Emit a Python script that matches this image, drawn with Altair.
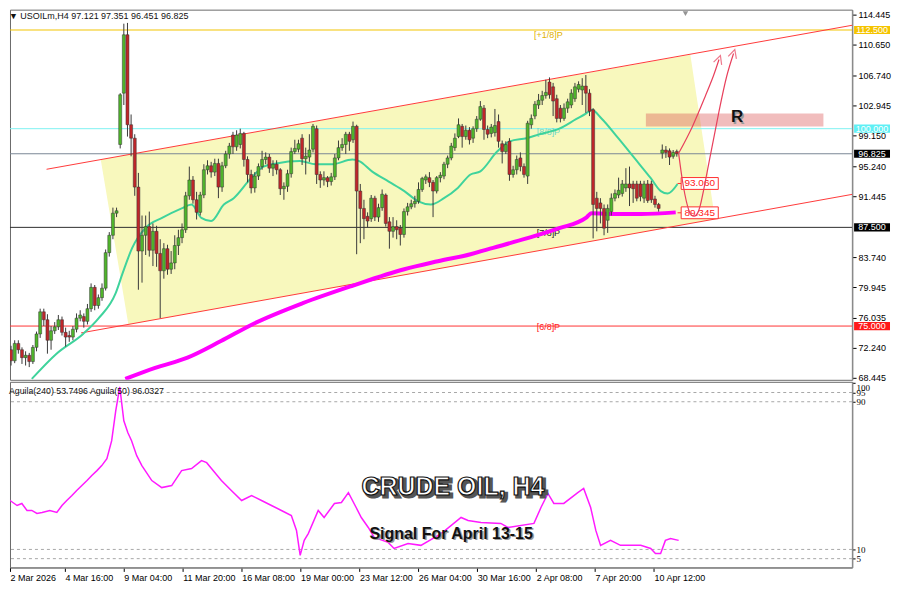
import altair as alt
import pandas as pd

# ---------------- price data (H4 candles) ----------------
opens = [72.0, 70.6, 72.8, 72.0, 71.0, 71.3, 70.5, 72.3, 74.0, 76.8,
         75.8, 73.2, 74.4, 74.9, 75.8, 74.2, 73.8, 73.6, 74.6, 76.0,
         76.2, 75.6, 77.2, 79.9, 77.6, 78.6, 79.8, 84.3, 86.5, 89.3,
         98.0, 104.5, 111.9, 100.5, 98.8, 92.6, 84.5, 86.5, 87.6, 84.6,
         87.0, 84.2, 82.0, 84.8, 82.2, 83.0, 85.2, 86.2, 87.2, 91.5,
         93.5, 91.0, 89.4, 91.6, 94.8, 95.3, 94.5, 95.6, 92.6, 95.3,
         96.8, 99.2, 97.7, 98.0, 99.4, 96.1, 94.2, 92.5, 94.0, 95.2,
         96.1, 96.4, 95.0, 95.5, 94.8, 92.4, 92.7, 94.3, 97.1, 97.4,
         98.8, 96.2, 96.4, 97.4, 100.0, 94.2, 93.5, 93.8, 93.3, 93.9,
         96.3, 97.6, 98.0, 99.3, 98.6, 100.3, 92.1, 89.9, 88.9, 88.6,
         91.2, 88.8, 90.0, 91.6, 88.2, 87.0, 87.6, 87.4, 86.6, 89.5,
         90.1, 90.5, 90.8, 92.3, 93.5, 93.8, 93.2, 92.1, 93.8, 94.0,
         95.5, 96.3, 97.6, 99.0, 100.3, 99.0, 99.8, 98.8, 100.0, 101.2,
         102.6, 99.9, 99.4, 99.5, 100.9, 98.1, 97.1, 98.4, 94.2, 94.8,
         96.3, 95.2, 94.0, 100.5, 101.6, 103.0, 103.6, 104.2, 105.9, 105.3,
         103.8, 102.6, 101.3, 102.6, 103.0, 103.8, 105.0, 104.9, 105.4, 104.5,
         102.4, 91.2, 90.6, 89.9, 88.4, 89.5, 91.2, 91.6, 91.8, 92.5,
         93.0, 93.0, 93.0, 93.0, 91.2, 93.0, 93.0, 91.1, 90.4, 96.9,
         97.3, 97.2, 96.5, 97.12]
highs = [72.5, 73.2, 73.2, 72.3, 71.8, 71.6, 72.6, 74.3, 77.2, 77.2,
         76.5, 75.0, 75.5, 76.4, 76.2, 74.8, 74.4, 75.0, 76.6, 77.0,
         76.6, 77.8, 80.4, 80.2, 79.0, 80.4, 84.7, 86.9, 90.0, 90.0,
         104.5, 113.3, 113.4, 101.8, 99.3, 94.4, 89.0, 89.0, 89.5, 88.0,
         87.7, 86.0, 85.5, 85.3, 84.5, 86.5, 87.2, 88.0, 92.0, 95.2,
         94.0, 92.0, 92.0, 95.5, 96.0, 95.8, 96.2, 96.2, 95.8, 97.2,
         98.2, 99.6, 99.8, 100.0, 99.6, 96.5, 94.8, 94.5, 95.6, 97.2,
         97.0, 96.8, 96.0, 96.0, 95.0, 93.2, 94.8, 97.6, 98.6, 98.6,
         99.3, 97.6, 99.3, 100.6, 100.4, 94.6, 94.6, 94.0, 94.4, 96.8,
         98.5, 98.8, 99.6, 99.6, 100.9, 100.5, 93.0, 91.0, 89.4, 91.6,
         91.5, 90.5, 92.3, 91.8, 88.8, 88.8, 88.4, 87.8, 89.9, 90.6,
         91.0, 91.5, 93.2, 93.9, 94.2, 94.5, 93.5, 94.0, 94.5, 95.8,
         96.6, 98.2, 99.4, 101.3, 100.6, 100.4, 100.2, 100.3, 101.6, 103.5,
         103.0, 100.4, 100.6, 102.5, 101.8, 98.5, 98.4, 98.8, 95.3, 96.6,
         97.0, 95.6, 101.0, 101.8, 103.5, 104.4, 104.8, 106.2, 106.5, 105.8,
         104.3, 103.0, 103.2, 103.8, 105.0, 105.8, 106.0, 106.4, 106.8, 105.0,
         102.6, 92.0, 91.2, 90.4, 90.4, 91.8, 92.3, 93.8, 93.5, 95.0,
         95.2, 93.4, 93.4, 93.4, 93.4, 93.5, 93.4, 91.5, 90.6, 98.0,
         97.8, 97.5, 97.3, 97.351]
lows = [70.0, 70.3, 71.5, 70.2, 70.0, 69.8, 70.2, 71.8, 73.5, 75.0,
        71.5, 72.0, 74.0, 74.5, 73.8, 72.4, 73.0, 73.2, 74.2, 75.6,
        74.8, 75.2, 76.8, 77.0, 77.2, 78.2, 79.5, 83.8, 86.0, 88.8,
        97.5, 103.0, 99.0, 96.5, 91.5, 79.6, 80.5, 84.0, 83.8, 82.6,
        82.5, 76.0, 81.0, 81.5, 81.6, 82.2, 84.0, 85.5, 86.8, 91.0,
        90.5, 88.5, 89.0, 91.2, 94.2, 93.8, 94.0, 91.2, 92.0, 95.0,
        96.2, 96.8, 97.2, 97.5, 95.2, 93.2, 91.8, 91.9, 93.5, 94.8,
        95.5, 94.4, 94.0, 94.2, 91.6, 91.0, 92.0, 93.8, 96.8, 97.0,
        95.4, 94.2, 95.8, 97.0, 93.0, 92.5, 92.8, 92.6, 92.8, 93.5,
        96.0, 97.2, 96.8, 97.2, 98.2, 84.1, 85.5, 86.0, 87.5, 88.2,
        88.3, 88.2, 89.6, 87.6, 84.8, 86.2, 86.0, 85.2, 86.2, 89.0,
        89.8, 90.0, 90.5, 92.0, 93.0, 92.6, 88.8, 91.8, 93.2, 93.6,
        95.0, 96.0, 97.2, 98.8, 97.6, 98.6, 98.0, 98.2, 99.6, 101.0,
        98.6, 98.8, 98.9, 99.0, 97.6, 95.6, 96.8, 93.4, 93.8, 94.2,
        94.6, 93.8, 93.0, 100.0, 101.2, 102.5, 103.0, 103.8, 103.8, 101.6,
        100.8, 100.8, 101.0, 102.0, 102.6, 103.4, 104.6, 103.0, 102.0, 101.6,
        86.1, 87.0, 88.0, 86.5, 86.8, 89.0, 90.8, 91.2, 91.4, 92.0,
        90.2, 90.6, 90.8, 90.8, 90.6, 90.6, 90.6, 90.0, 89.5, 96.2,
        96.3, 95.4, 96.2, 96.451]
closes = [70.6, 72.8, 72.0, 71.0, 71.3, 70.5, 72.3, 74.0, 76.8, 75.8,
          73.2, 74.4, 74.9, 75.8, 74.2, 73.6, 73.6, 74.6, 76.0, 76.4,
          75.6, 77.2, 79.9, 77.6, 78.6, 79.8, 84.3, 86.5, 89.3, 89.6,
          104.3, 111.9, 100.5, 98.8, 92.6, 84.5, 86.5, 87.6, 84.6, 87.0,
          84.2, 82.0, 84.8, 82.2, 83.0, 85.2, 86.2, 87.2, 91.5, 93.5,
          91.0, 89.4, 91.6, 94.8, 95.3, 94.5, 95.6, 92.6, 95.3, 96.8,
          97.8, 97.7, 99.2, 99.4, 96.1, 94.2, 92.5, 94.0, 95.2, 96.1,
          96.4, 95.0, 95.5, 94.8, 92.4, 92.7, 94.3, 97.1, 97.5, 98.1,
          96.2, 96.5, 97.3, 100.3, 94.2, 93.5, 93.8, 93.3, 93.9, 96.3,
          97.6, 98.0, 99.3, 98.4, 100.3, 92.1, 89.9, 88.6, 88.3, 91.2,
          88.8, 90.0, 91.7, 88.0, 87.0, 87.6, 87.2, 86.6, 89.5, 90.1,
          90.5, 90.8, 92.3, 93.7, 93.9, 93.2, 92.1, 93.8, 94.1, 95.5,
          96.3, 97.8, 98.8, 100.5, 99.0, 99.8, 98.6, 100.0, 101.2, 102.8,
          99.9, 99.3, 100.2, 100.4, 98.4, 97.1, 98.0, 94.2, 94.8, 96.1,
          95.2, 94.2, 100.7, 101.3, 103.1, 103.6, 104.2, 104.6, 104.3, 103.5,
          101.3, 101.3, 102.6, 103.4, 104.5, 105.3, 105.6, 105.4, 104.5, 102.2,
          90.4, 89.9, 89.9, 87.4, 89.9, 91.2, 91.8, 92.2, 93.0, 93.0,
          92.5, 92.4, 91.2, 91.4, 93.0, 90.9, 91.0, 90.4, 89.9, 97.3,
          97.0, 96.4, 97.0, 96.825]

# moving averages (bar index, price)
ma_fast_i = [5.7, 12.5, 19.8, 24.1, 28.7, 30.6, 33.3, 36.9, 41.5, 46.9, 49.6, 52.3, 55.0, 58.5,
             61.2, 65.9, 69.4, 72.9, 79.4, 83.7, 88.3, 93.8, 95.7, 99.2, 103.8, 108.1, 111.9,
             115.4, 119.0, 122.8, 126.3, 129.0, 133.6, 137.1, 141.7, 145.3, 150.7, 155.3, 158.0,
             159.6, 162.3, 166.9, 171.5, 175.9, 178.6, 180.5, 183.2]
ma_fast_v = [68.3, 71.5, 74.0, 76.0, 79.1, 81.6, 84.9, 87.4, 88.7, 89.9, 90.4, 88.7, 88.3, 90.4,
             91.2, 93.7, 95.2, 95.6, 95.9, 95.5, 95.5, 96.1, 95.9, 94.6, 93.3, 92.1, 90.8,
             90.4, 91.2, 92.5, 94.2, 94.6, 97.1, 98.4, 98.8, 99.3, 100.0, 101.2, 101.9,
             102.4, 101.3, 98.8, 96.2, 93.7, 92.1, 91.8, 93.0]
ma_slow_i = [31.4, 39.6, 48.5, 57.7, 66.7, 80.2, 93.8, 108.1, 117.3, 126.3, 132.5, 141.7, 150.7,
             158.0, 159.6, 164.2, 173.2, 182.7]
ma_slow_v = [68.3, 69.7, 71.0, 73.1, 75.3, 77.9, 80.1, 82.2, 83.2, 84.1, 84.9, 86.1, 87.4,
             88.7, 89.3, 89.2, 89.2, 89.4]

# levels
level_prices = [112.5, 100.0, 96.825, 87.5, 75.0]
level_colors = ["#f2c400", "#7ef2f2", "#7a8796", "#2e2e2e", "#ff3333"]
box_bg = ["#f5c400", "#5ff0f5", "#000000", "#000000", "#ff1a1a"]
level_names = ["[+1/8]P", "[8/8]P", "[7/8]P", "[6/8]P"]
level_name_p = [111.92, 99.53, 86.77, 74.89]
level_name_col = ["#e0b000", "#6fd8c8", "#222222", "#ff2020"]

# channel (bar index, price)
chan_i = [9.76, 231.44, 19.24, 231.44]
chan_p = [94.86, 113.12, 74.13, 91.70]
chan_g = ["up", "up", "lo", "lo"]
poly_i = [24.66, 32.25, 186.72, 193.50]
poly_top = [96.08, 96.70, 109.38, 88.55]
poly_bot = [96.08, 75.21, 87.99, 88.55]

# resistance zone
zone_i = [174.5, 223.3]
zone_p = [100.29, 101.93]

# MA value tags
tag_p = [93.06, 89.345]
tag_t = ["93.060", "89.345"]

# projected paths
pathA_i = [183.5, 187.3, 190.8, 193.0, 194.6]
pathA_p = [96.88, 100.29, 104.08, 106.61, 108.76]
pathB_i = [183.5, 184.8, 186.4, 187.8, 189.4, 191.9, 194.6, 196.7, 198.6]
pathB_p = [96.88, 92.71, 89.55, 88.92, 90.18, 95.87, 102.19, 106.61, 109.52]

# indicator (Aguila 50)
ag_i = [-0.3, 1.1, 3.0, 4.3, 5.7, 7.0, 8.4, 9.8, 11.9, 13.8, 15.2, 16.5, 17.9, 19.2, 20.6, 22.0,
        23.3, 24.7, 26.0, 27.4, 28.7, 29.8, 30.9, 32.0, 33.1, 34.1, 35.5, 36.9, 39.6, 42.3, 45.0,
        47.7, 50.4, 53.1, 54.5, 55.8, 58.5, 61.2, 64.0, 66.7, 69.4, 72.1, 74.8, 77.5, 78.9, 79.9,
        81.0, 82.1, 84.8, 86.4, 89.2, 91.1, 93.0, 95.1, 96.5, 98.4, 100.0, 103.8, 105.4, 109.2,
        112.7, 118.2, 123.6, 125.5, 129.0, 134.4, 136.3, 143.4, 145.3, 147.2, 148.8, 151.5, 155.3,
        156.9, 158.8, 160.2, 161.5, 164.2, 166.9, 169.6, 172.4, 175.1, 176.4, 177.8, 179.1, 180.5,
        182.7]
ag_v = [38.6, 36.5, 33.8, 34.9, 31.1, 31.1, 29.5, 30.0, 31.1, 30.0, 33.8, 36.5, 39.2, 41.9, 44.6,
        47.3, 50.0, 52.7, 55.4, 59.2, 68.9, 85.1, 98.0, 79.7, 73.2, 68.9, 60.8, 55.4, 47.3, 43.5,
        44.6, 52.7, 53.8, 58.1, 57.0, 53.8, 47.3, 41.9, 36.5, 39.2, 36.5, 33.8, 31.1, 28.4, 20.3,
        6.8, 14.9, 18.6, 31.1, 27.3, 34.9, 35.4, 40.8, 32.7, 27.3, 21.9, 16.5, 13.8, 10.5, 13.2,
        12.2, 18.6, 27.3, 25.7, 24.6, 24.1, 21.9, 24.1, 32.7, 40.3, 34.9, 34.9, 40.8, 43.0, 32.7,
        20.3, 12.2, 14.9, 12.2, 12.2, 12.2, 10.5, 7.8, 7.8, 14.9, 15.9, 14.9]
ag_levels = [95, 90, 10, 5]

x_tick_idx = [1.1, 16, 32, 48, 64, 80, 96, 112, 128, 144, 160, 176]
x_tick_lbl = ["2 Mar 2026", "4 Mar 16:00", "9 Mar 04:00", "11 Mar 20:00", "16 Mar 08:00",
              "19 Mar 00:00", "23 Mar 12:00", "26 Mar 04:00", "30 Mar 16:00", "2 Apr 08:00",
              "7 Apr 20:00", "10 Apr 12:00"]
price_ticks = [114.445, 110.65, 106.74, 102.945, 99.15, 95.24, 91.445, 83.74, 79.945, 76.035,
               72.24, 68.445]
ind_ticks = [0, 5, 10, 90, 95, 100]

# ---------------- layout ----------------
W, H1, H2 = 844, 371, 186
FONT = "Liberation Sans"
xs = alt.Scale(domain=[1.08, 229.81], nice=False, zero=False)
ps = alt.Scale(domain=[68.19, 115.08], nice=False, zero=False)
vs = alt.Scale(domain=[0.27, 100.8], nice=False, zero=False)

P_AXIS = alt.Axis(orient="right", values=price_ticks, format=".3f", grid=False, tickSize=4,
                  labelPadding=2, domainColor="#8a8a8a", domainWidth=1.5, tickColor="#000",
                  labelColor="#000", labelFontSize=9, labelFont=FONT, title=None,
                  labelOverlap=False, labelFlush=False)
V_AXIS = alt.Axis(orient="right", values=ind_ticks, format="d", grid=False, tickSize=3,
                  labelPadding=1, domainColor="#8a8a8a", domainWidth=1.5, tickColor="#000",
                  labelColor="#000", labelFontSize=9, labelFont="Liberation Serif", title=None,
                  labelOverlap=False, labelFlush=False,
                  labelBaseline={"condition": {"test": "datum.value >= 100", "value": "top"},
                                 "value": "middle"})
label_expr = "[" + ",".join(f"'{s}'" for s in x_tick_lbl) + "][round(datum.value/16)]"
B_AXIS = alt.Axis(values=x_tick_idx, labelExpr=label_expr, labelAlign="left", labelAngle=0, grid=False,
                  tickSize=4, labelPadding=2, domainColor="#8a8a8a", domainWidth=1.5, tickColor="#000",
                  labelColor="#000", labelFontSize=9, labelFont=FONT, labelFlush=False,
                  labelOverlap=False, title=None)


def TX(f):
    return alt.X(f, type="quantitative", scale=xs, axis=None, title=None)


def BX(f):
    return alt.X(f, type="quantitative", scale=xs, axis=B_AXIS, title=None)


def PY(f):
    return alt.Y(f, type="quantitative", scale=ps, axis=P_AXIS, title=None)


def VY(f):
    return alt.Y(f, type="quantitative", scale=vs, axis=V_AXIS, title=None)


candles = pd.DataFrame({"i": list(range(len(closes))), "o": opens, "h": highs, "l": lows, "c": closes})
candles["col"] = ["#4fb52b" if c >= o else "#c0262a" for o, c in zip(opens, closes)]

poly = pd.DataFrame({"i": poly_i, "t": poly_top, "b": poly_bot})
area = alt.Chart(poly).mark_area(color="#f8f8bd", opacity=1).encode(TX("i"), PY("t"), y2="b:Q")

zone = alt.Chart(pd.DataFrame({"i": [zone_i[0]], "i2": [zone_i[1]], "p": [zone_p[0]], "p2": [zone_p[1]]})).mark_rect(
    color="#d84848", opacity=0.36, clip=True).encode(TX("i"), x2="i2:Q", y=PY("p"), y2="p2:Q")

levels_df = pd.DataFrame({"p": level_prices, "col": level_colors})
levels = alt.Chart(levels_df).mark_rule(strokeWidth=1).encode(y=PY("p"), color=alt.Color("col:N", scale=None))

chan = alt.Chart(pd.DataFrame({"i": chan_i, "p": chan_p, "g": chan_g})).mark_line(
    color="#ff3a3a", strokeWidth=1, clip=True).encode(TX("i"), PY("p"), detail="g:N")

lvl_txt = alt.Chart(pd.DataFrame({"i": [147.7] * 4, "p": level_name_p, "t": level_names, "col": level_name_col})).mark_text(
    font=FONT, fontSize=9, baseline="middle", align="center").encode(TX("i"), PY("p"), text="t:N", color=alt.Color("col:N", scale=None))

ma_fast = alt.Chart(pd.DataFrame({"i": ma_fast_i, "p": ma_fast_v})).mark_line(
    color="#3fd39c", strokeWidth=2, interpolate="monotone", clip=True).encode(TX("i"), PY("p"))
ma_slow = alt.Chart(pd.DataFrame({"i": ma_slow_i, "p": ma_slow_v})).mark_line(
    color="#ff00ff", strokeWidth=4, interpolate="monotone", clip=True).encode(TX("i"), PY("p"))

wick = alt.Chart(candles).mark_rule(color="#3a3a3a", strokeWidth=1, clip=True).encode(TX("i"), PY("l"), y2="h:Q")
body = alt.Chart(candles).mark_bar(width=3, stroke="#333333", strokeWidth=0.5, clip=True).encode(
    TX("i"), PY("o"), y2="c:Q", color=alt.Color("col:N", scale=None))

tags = pd.DataFrame({"i": [184.2] * 2, "i2": [194.4] * 2, "im": [189.3] * 2, "ie": [183.2] * 2,
                     "p": tag_p, "t": tag_t})
tags["p1"] = tags["p"] + 0.75
tags["p2"] = tags["p"] - 0.75
tag_line = alt.Chart(tags).mark_rule(color="#ff3030", strokeWidth=1).encode(TX("ie"), x2="i:Q", y=PY("p"))
tag_box = alt.Chart(tags).mark_rect(fill="white", stroke="#ff3030", strokeWidth=1).encode(
    TX("i"), x2="i2:Q", y=PY("p1"), y2="p2:Q")
tag_txt = alt.Chart(tags).mark_text(font=FONT, fontSize=10, color="#ff2020", baseline="middle").encode(
    TX("im"), y=PY("p"), text="t:N")

paths = pd.DataFrame({"i": pathA_i + pathB_i, "p": pathA_p + pathB_p,
                      "g": ["A"] * len(pathA_i) + ["B"] * len(pathB_i)})
path_lines = alt.Chart(paths).mark_line(color="#e8405c", strokeWidth=1.2, interpolate="natural").encode(
    TX("i"), PY("p"), detail="g:N")
heads = pd.DataFrame({"i": [pathA_i[-1], pathB_i[-1]], "p": [pathA_p[-1], pathB_p[-1]], "a": [19, 17]})
path_heads = alt.Chart(heads).mark_point(shape="M-0.9,0.9L0,-0.9L0.9,0.9", filled=False, color="#e8405c",
                                         strokeWidth=1.2, size=90).encode(TX("i"), PY("p"), angle=alt.Angle("a:Q", scale=None))

r_df = pd.DataFrame({"i": [199.6], "p": [101.45], "t": ["R"]})
r_shadow = alt.Chart(r_df).mark_text(font=FONT, fontSize=17, fontWeight="bold", color="#9a9a9a", dx=1.5, dy=1.5).encode(TX("i"), PY("p"), text="t:N")
r_txt = alt.Chart(r_df).mark_text(font=FONT, fontSize=17, fontWeight="bold", color="#111111").encode(TX("i"), PY("p"), text="t:N")

header = alt.Chart(pd.DataFrame({"t": ["\u25bc USOILm,H4  97.121 97.351 96.451 96.825"]})).mark_text(
    font=FONT, fontSize=9, align="left", baseline="middle", color="#111").encode(
    x=alt.value(-1), y=alt.value(6), text="t:N")
shift_mark = alt.Chart(pd.DataFrame({"t": [1]})).mark_point(shape="triangle-down", filled=True, color="#666", size=30).encode(
    x=alt.value(677), y=alt.value(4))

boxes = pd.DataFrame({"p": level_prices, "bg": box_bg, "t": [f"{p:.3f}" for p in level_prices]})
boxes["p1"] = boxes["p"] + 0.52
boxes["p2"] = boxes["p"] - 0.52
box_rect = alt.Chart(boxes).mark_rect().encode(
    x=alt.value(W + 2), x2=alt.value(W + 38), y=PY("p1"), y2="p2:Q", color=alt.Color("bg:N", scale=None))
box_txt = alt.Chart(boxes).mark_text(font=FONT, fontSize=9, color="white", baseline="middle", align="center").encode(
    x=alt.value(W + 20), y=PY("p"), text="t:N")

top = alt.layer(area, zone, levels, chan, lvl_txt, ma_fast, ma_slow, wick, body, tag_line, tag_box, tag_txt,
                path_lines, path_heads, r_shadow, r_txt, header, shift_mark, box_rect, box_txt).properties(
    width=W, height=H1)

# ---------------- indicator panel ----------------
ag_df = pd.DataFrame({"i": ag_i, "v": ag_v})
ag_line = alt.Chart(ag_df).mark_line(color="#ff1aff", strokeWidth=1.5, clip=True).encode(BX("i"), VY("v"))
ag_rules = alt.Chart(pd.DataFrame({"v": ag_levels})).mark_rule(color="#a8a8a8", strokeDash=[3, 3], strokeWidth=1).encode(VY("v"))
ag_header = alt.Chart(pd.DataFrame({"t": ["Aguila(240) 53.7496  Aguila(50) 96.0327"]})).mark_text(
    font=FONT, fontSize=8.8, align="left", baseline="middle", color="#111").encode(
    x=alt.value(-1), y=alt.value(9), text="t:N")

ttl = pd.DataFrame({"i": [121.4], "v": [44.0], "t": ["CRUDE OIL, H4"]})
ttl_shadow = alt.Chart(ttl).mark_text(font=FONT, fontSize=25, fontWeight="bold", color="#555555", stroke="#555555",
                                      strokeWidth=3, dx=2.5, dy=2.5, baseline="middle").encode(BX("i"), VY("v"), text="t:N")
ttl_txt = alt.Chart(ttl).mark_text(font=FONT, fontSize=25, fontWeight="bold", color="#ffffff", stroke="#111111",
                                   strokeWidth=1.2, baseline="middle").encode(BX("i"), VY("v"), text="t:N")
sub = pd.DataFrame({"i": [120.9], "v": [18.6], "t": ["Signal For April 13-15"]})
sub_shadow = alt.Chart(sub).mark_text(font=FONT, fontSize=16, fontWeight="bold", color="#9a9a9a", dx=1.5, dy=1.5,
                                      baseline="middle").encode(BX("i"), VY("v"), text="t:N")
sub_txt = alt.Chart(sub).mark_text(font=FONT, fontSize=16, fontWeight="bold", color="#111111",
                                   baseline="middle").encode(BX("i"), VY("v"), text="t:N")

bottom = alt.layer(ag_rules, ag_line, ag_header, ttl_shadow, ttl_txt, sub_shadow, sub_txt).properties(width=W, height=H2)

chart = alt.vconcat(top, bottom, spacing=2, bounds="flush").properties(
    padding=0,
    background="white",
).configure_view(stroke="#6a6a6a", strokeWidth=1)

chart.save("out.html", embed_options={"renderer": "svg", "actions": False})
